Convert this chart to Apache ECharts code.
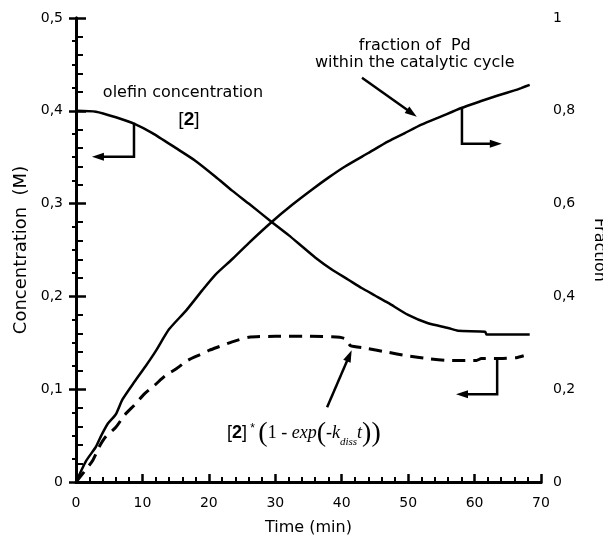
<!DOCTYPE html>
<html>
<head>
<meta charset="utf-8">
<script src="https://cdn.jsdelivr.net/npm/echarts@6/dist/echarts.min.js"></script>
<style>
  html, body { margin: 0; padding: 0; background: #fff; }
  #chart { width: 603px; height: 540px; }
</style>
</head>
<body>
<div id="chart"></div>
<script>
// olefin concentration [2] (M, left axis)
var olefinTime = [0, 3, 6, 8.8, 11.5, 15, 18, 21, 23.5, 26, 29.5, 32, 34, 36, 38.5, 41, 43, 45, 47, 50, 53, 56, 57.5, 61.6, 61.8, 68.3];
var olefinConc = [0.400, 0.399, 0.393, 0.386, 0.376, 0.360, 0.346, 0.329, 0.314, 0.300, 0.280, 0.266, 0.254, 0.242, 0.229, 0.218, 0.209, 0.201, 0.193, 0.180, 0.171, 0.166, 0.163, 0.162, 0.159, 0.159];

// fraction of Pd within the catalytic cycle (right axis)
var fracTime = [0, 1.5, 3, 3.8, 4.8, 6, 7, 8.8, 10.5, 12, 14, 16.6, 19, 21, 23.5, 26, 29.5, 32.5, 35.5, 38, 40.5, 44, 47, 49.5, 52, 55, 58, 61, 63.5, 66, 67, 68.3];
var fracVal = [0, 0.045, 0.076, 0.100, 0.126, 0.146, 0.178, 0.216, 0.250, 0.282, 0.329, 0.370, 0.413, 0.447, 0.480, 0.515, 0.561, 0.597, 0.630, 0.656, 0.680, 0.709, 0.734, 0.752, 0.770, 0.788, 0.806, 0.821, 0.833, 0.844, 0.849, 0.856];

// [2]*(1-exp(-kdiss t)) (M, left axis, dashed)
var dissTime = [0, 2.5, 3.5, 4.5, 6, 7.3, 8.8, 10.3, 11.8, 13.5, 15.1, 16.8, 18.6, 20.1, 21.6, 23.5, 26, 30, 35, 39.7, 40.6, 41.3, 43.8, 46.8, 49.8, 53, 56.3, 60.3, 61, 63.8, 66.3, 67.4];
var dissVal = [0, 0.023, 0.038, 0.049, 0.059, 0.072, 0.083, 0.095, 0.104, 0.115, 0.122, 0.131, 0.137, 0.142, 0.146, 0.151, 0.156, 0.157, 0.157, 0.156, 0.154, 0.147, 0.144, 0.140, 0.136, 0.133, 0.131, 0.131, 0.133, 0.133, 0.134, 0.136];

// annotation anchors, in (time, left-axis value)
var olefinBracket = [[8.73, 0.387], [8.73, 0.3504], [2.4, 0.3504]];
var fracBracket = [[58.1, 0.403], [58.1, 0.3645], [64.1, 0.3645]];
var dissBracket = [[63.4, 0.1335], [63.4, 0.0946], [57.2, 0.0946]];
var fracPointer = [[43.05, 0.4357], [51.3, 0.3937]];
var dissPointer = [[37.8, 0.0806], [41.5, 0.142]];

var FONT = 'DejaVu Sans';

function pairs(xs, ys) {
    return xs.map(function (x, i) { return [x, ys[i]]; });
}
function comma(v) {
    return String(+v.toFixed(2)).replace('.', ',');
}

var axisLine = { show: true, lineStyle: { color: '#000', width: 3 } };
var labelStyle = { color: '#000', fontSize: 14, fontFamily: FONT };
// ticks point into the plot
function ticks(major, minor, split) {
    return {
        axisTick: { show: true, inside: true, length: major, lineStyle: { color: '#000', width: 2.5 } },
        minorTick: { show: true, splitNumber: split, length: minor, lineStyle: { color: '#000', width: 2 } }
    };
}

var option = {
    backgroundColor: '#fff',
    animation: false,
    grid: { left: 76, right: 62, top: 18, bottom: 58, outerBoundsMode: 'none' },
    xAxis: [Object.assign({
        type: 'value', min: 0, max: 70, interval: 10,
        axisLine: axisLine,
        splitLine: { show: false },
        axisLabel: Object.assign({ margin: 14 }, labelStyle),
        name: 'Time (min)', nameLocation: 'middle', nameGap: 38,
        nameTextStyle: { color: '#000', fontSize: 16, fontFamily: FONT }
    }, ticks(8, 5, 5)), {
        type: 'value', position: 'top', min: 0, max: 70,
        axisLine: axisLine, axisTick: { show: false }, axisLabel: { show: false }, splitLine: { show: false }
    }],
    yAxis: [Object.assign({
        type: 'value', min: 0, max: 0.5, interval: 0.1,
        axisLine: axisLine,
        splitLine: { show: false },
        axisLabel: Object.assign({ margin: 13, formatter: comma }, labelStyle),
        name: 'Concentration  (M)', nameLocation: 'middle', nameGap: 44,
        nameTextStyle: { color: '#000', fontSize: 18, fontFamily: FONT }
    }, ticks(10, 7, 5)), Object.assign({
        type: 'value', position: 'right', min: 0, max: 1, interval: 0.2,
        axisLine: axisLine,
        splitLine: { show: false },
        axisLabel: Object.assign({ margin: 12, formatter: comma }, labelStyle),
        name: 'Fraction', nameLocation: 'middle', nameGap: 50, nameRotate: -90,
        nameTextStyle: { color: '#000', fontSize: 16, fontFamily: FONT }
    }, ticks(7, 4, 4))],
    series: [{
        name: 'olefin', type: 'line', yAxisIndex: 0, showSymbol: false, smooth: 0.2,
        lineStyle: { color: '#000', width: 2.5 },
        data: pairs(olefinTime, olefinConc)
    }, {
        name: 'fraction', type: 'line', yAxisIndex: 1, showSymbol: false, smooth: 0.2,
        lineStyle: { color: '#000', width: 2.5 },
        data: pairs(fracTime, fracVal)
    }, {
        name: 'diss', type: 'line', yAxisIndex: 0, showSymbol: false, smooth: 0.2,
        lineStyle: { color: '#000', width: 3, type: [13, 8] },
        data: pairs(dissTime, dissVal)
    }]
};

var chart = echarts.init(document.getElementById('chart'));
chart.setOption(option);

function px(p) {
    return chart.convertToPixel({ xAxisIndex: 0, yAxisIndex: 0 }, p);
}
// polyline ending in a filled arrow head
function arrow(anchors) {
    var pts = anchors.map(px);
    var n = pts.length, tip = pts[n - 1], prev = pts[n - 2];
    var dx = tip[0] - prev[0], dy = tip[1] - prev[1], L = Math.sqrt(dx * dx + dy * dy);
    var ux = dx / L, uy = dy / L;
    var bx = tip[0] - ux * 12, by = tip[1] - uy * 12;
    var line = pts.slice(0, n - 1).concat([[tip[0] - ux * 8, tip[1] - uy * 8]]);
    return [{
        type: 'polyline', shape: { points: line },
        style: { stroke: '#000', lineWidth: 2.5, fill: null }
    }, {
        type: 'polygon',
        shape: { points: [tip, [bx - uy * 4, by + ux * 4], [bx + uy * 4, by - ux * 4]] },
        style: { fill: '#000' }
    }];
}
function label(pos, text, style) {
    var p = px(pos);
    return {
        type: 'text', x: p[0], y: p[1],
        style: Object.assign({ text: text, fill: '#000', align: 'center', verticalAlign: 'middle', fontFamily: FONT, fontSize: 16 }, style || {})
    };
}

var graphics = [].concat(
    arrow(olefinBracket), arrow(fracBracket), arrow(dissBracket),
    arrow(fracPointer), arrow(dissPointer),
    [
        label([16.1, 0.4195], 'olefin concentration'),
        label([17.0, 0.390], '{b|[}{bb|2}{b|]}', {
            rich: {
                b: { fontFamily: 'Liberation Sans', fontSize: 19 },
                bb: { fontFamily: 'Liberation Sans', fontSize: 19, fontWeight: 'bold' }
            }
        }),
        label([51.0, 0.4605], 'fraction of  Pd\nwithin the catalytic cycle', { lineHeight: 17 }),
        label([34.3, 0.0526], '{b|[}{bb|2}{b|]}{s| * }{p|(}{r|1 - }{i|exp}{p|(}{r|-}{i|k}{sub|diss}{i|t}{p|))}', {
            rich: {
                b: { fontFamily: 'Liberation Sans', fontSize: 18, verticalAlign: 'middle' },
                bb: { fontFamily: 'Liberation Sans', fontSize: 18, fontWeight: 'bold', verticalAlign: 'middle' },
                s: { fontFamily: 'Liberation Sans', fontSize: 12, verticalAlign: 'middle', padding: [0, 0, 8, 0] },
                p: { fontFamily: 'Liberation Serif', fontSize: 28, verticalAlign: 'middle', lineHeight: 28 },
                r: { fontFamily: 'Liberation Serif', fontSize: 18, verticalAlign: 'middle' },
                i: { fontFamily: 'Liberation Serif', fontSize: 18, fontStyle: 'italic', verticalAlign: 'middle' },
                sub: { fontFamily: 'Liberation Serif', fontSize: 11, fontStyle: 'italic', verticalAlign: 'bottom', lineHeight: 18 }
            }
        })
    ]
);
chart.setOption({ graphic: graphics });
</script>
</body>
</html>
